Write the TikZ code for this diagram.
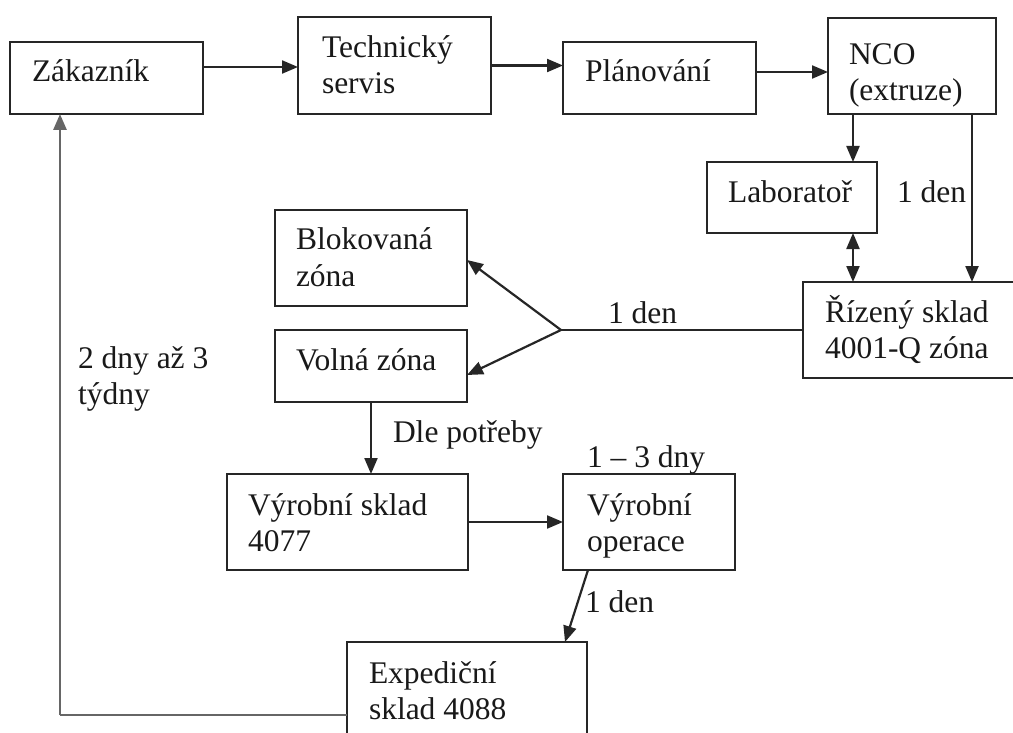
\documentclass[tikz,border=0pt]{standalone}
\usepackage{fontspec}
\setmainfont{Liberation Serif}
\usetikzlibrary{arrows.meta,calc}
\tikzset{
  box/.style={draw=black!85, line width=2.2pt, anchor=north west, inner sep=0pt, outer sep=0pt},
  lbl/.style={anchor=north west, inner sep=0pt, outer sep=0pt, align=left, text=black!90,
              font=\fontsize{31.5}{36}\selectfont},
  conn/.style={draw=black!85, line width=2.2pt},
  arr/.style={conn, -{Triangle[length=16pt,width=13pt]}},
  darr/.style={conn, {Triangle[length=16pt,width=13pt]}-{Triangle[length=16pt,width=13pt]}},
  loopline/.style={draw=black!60, line width=2.8pt},
}
\newcommand{\st}{\rule{0pt}{30pt}}
\begin{document}
\begin{tikzpicture}[x=1pt,y=-1pt]
\useasboundingbox (0,0) rectangle (1013,733);
\fill[white] (0,0) rectangle (1013,733);

% boxes
\node[box, minimum width=193pt, minimum height=72pt] (zak)   at (10,42)   {};
\node[box, minimum width=193pt, minimum height=97pt] (tech)  at (298,17)  {};
\node[box, minimum width=193pt, minimum height=72pt] (plan)  at (563,42)  {};
\node[box, minimum width=168pt, minimum height=96pt] (nco)   at (828,18)  {};
\node[box, minimum width=170pt, minimum height=71pt] (lab)   at (707,162) {};
\node[box, minimum width=192pt, minimum height=96pt] (blok)  at (275,210) {};
\node[box, minimum width=192pt, minimum height=72pt] (volna) at (275,330) {};
\node[box, minimum width=220pt, minimum height=96pt] (riz)   at (803,282) {};
\node[box, minimum width=241pt, minimum height=96pt] (vsk)   at (227,474) {};
\node[box, minimum width=172pt, minimum height=96pt] (vop)   at (563,474) {};
\node[box, minimum width=240pt, minimum height=120pt] (exp)  at (347,642) {};

% texts (north = first baseline - 30)
\node[lbl] (tzak)   at (32,52)   {\st Zákazník};
\node[lbl] (ttech)  at (322,28)  {\st Technický\\servis};
\node[lbl] (tplan)  at (585,52)  {\st Plánování};
\node[lbl] (tnco)   at (849,35)  {\st NCO\\(extruze)};
\node[lbl] (tlab)   at (728,173) {\st Laboratoř};
\node[lbl] (tden1)  at (897,173) {\st 1 den};
\node[lbl] (tblok)  at (296,220) {\st Blokovaná\\zóna};
\node[lbl] (tvolna) at (296,340) {\st Volná zóna};
\node[lbl] (tden2)  at (608,293) {\st 1 den};
\node[lbl] (triz)   at (825,292) {\st Řízený sklad\\4001-Q zóna};
\node[lbl] (tdle)   at (393,412) {\st Dle potřeby};
\node[lbl] (t13)    at (587,437) {\st 1 – 3 dny};
\node[lbl] (tvsk)   at (248,485) {\st Výrobní sklad\\4077};
\node[lbl] (tvop)   at (587,485) {\st Výrobní\\operace};
\node[lbl] (tden3)  at (585,582) {\st 1 den};
\node[lbl] (texp)   at (369,653) {\st Expediční\\sklad 4088};
\node[lbl] (ttyd)   at (78,338)  {\st 2 dny až 3\\týdny};

% top row
\coordinate (a1) at ([yshift=11pt]zak.east);
\draw[arr] (a1) -- (a1 -| tech.west);
\draw[arr] (tech.east) -- (tech.east -| plan.west);
\coordinate (a3) at ([yshift=6pt]plan.east);
\draw[arr] (a3) -- (a3 -| nco.west);

% NCO -> Laboratoř, Lab <-> Řízený, NCO -> Řízený
\coordinate (lx) at ([xshift=61pt]lab.north);
\draw[arr] (lx |- nco.south) -- (lx);
\coordinate (lx2) at ([xshift=61pt]lab.south);
\draw[darr] (lx2) -- (lx2 |- riz.north);
\coordinate (rx) at ([xshift=60pt]nco.south);
\draw[arr] (rx) -- (rx |- riz.north);

% Řízený -> zones
\coordinate (J) at (561,330);
\draw[conn] (riz.west) -- (J);
\draw[arr] (J) -- ([yshift=-2pt]blok.east);
\draw[arr] (J) -- ([yshift=-9pt]volna.east);

% Volná -> Výrobní sklad -> Výrobní operace -> Expediční
\draw[arr] (volna.south) -- (volna.south |- vsk.north);
\draw[arr] (vsk.east) -- (vsk.east -| vop.west);
\draw[arr] ([xshift=-61pt]vop.south) -- ([xshift=98pt]exp.north);

% loop back to Zákazník
\coordinate (c1) at (60,715);
\draw[loopline] (exp.west |- c1) -- (c1);
\draw[loopline, -{Triangle[length=16pt,width=13pt]}] (c1) -- (c1 |- zak.south);
\end{tikzpicture}
\end{document}
